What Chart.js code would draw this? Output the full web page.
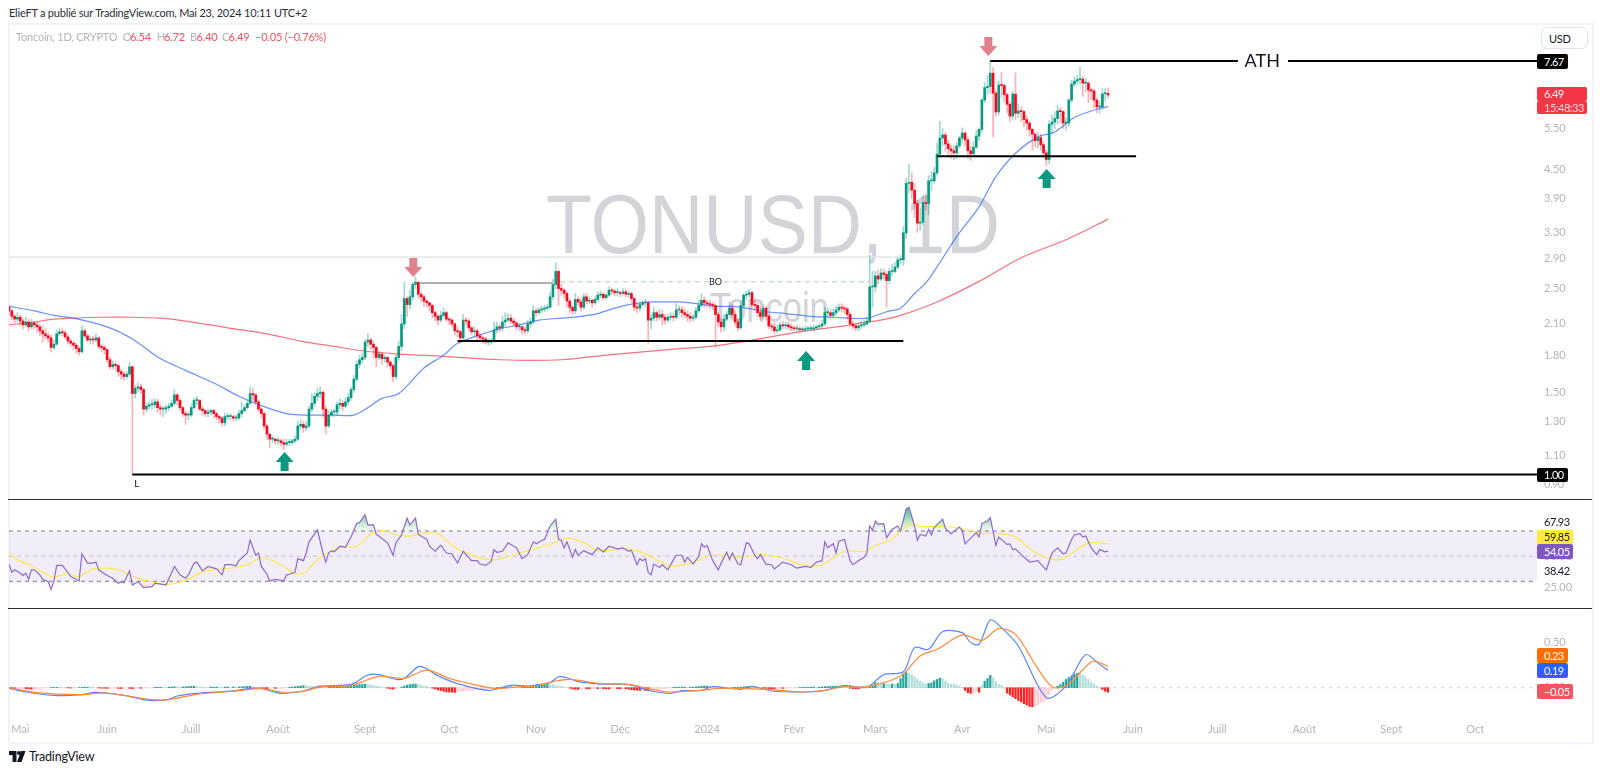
<!DOCTYPE html>
<html>
<head>
<meta charset="utf-8">
<title>TONUSD 1D</title>
<script src="https://cdn.jsdelivr.net/npm/chart.js@4"></script>
<style>
    html, body { margin: 0; padding: 0; background: #fff; width: 1600px; height: 772px; overflow: hidden; }
    body { font-family: Lato, sans-serif; position: relative; }
    canvas { position: absolute; left: 0; z-index: 2; }
    .txt { position: absolute; white-space: nowrap; line-height: 16px; height: 16px; z-index: 3; letter-spacing: -.2px; }
    .tag { position: absolute; left: 1537px; box-sizing: border-box; padding-left: 7px; font-size: 11px; letter-spacing: -.5px; border-radius: 2px; z-index: 4; white-space: nowrap; }
    .mark { position: absolute; color: #d3d4d8; font-family: "Liberation Sans", sans-serif; line-height: 1; white-space: nowrap; transform-origin: left top; z-index: 1; }
    .rule { position: absolute; left: 8px; width: 1584px; height: 1px; background: #2a2e39; z-index: 3; }
    #frame { position: absolute; left: 8px; top: 23px; width: 1582px; height: 717px; border: 2px solid #f0f3fa; z-index: 0; }
</style>
</head>
<body>
<div id="frame"></div>
<div class="mark" style="left:546px;top:182px;font-size:84px;transform:scaleX(.895)">TONUSD, 1D</div>
<div class="mark" style="left:710px;top:287px;font-size:42px;transform:scaleX(.82)">Toncoin</div>
<div class="rule" style="top:499px"></div>
<div class="rule" style="top:608px"></div>

<canvas id="priceChart" width="1600" height="475" style="top:24px"></canvas>
<canvas id="rsiChart" width="1600" height="108" style="top:500px"></canvas>
<canvas id="macdChart" width="1600" height="133" style="top:609px"></canvas>

<svg style="position:absolute;left:9px;top:751px;z-index:3" width="18" height="11" viewBox="0 0 36 22"><path d="M0 0h15v22H7V8H0z M24 0l-8 22h9l8-22z" fill="#131722"/><circle cx="20" cy="4" r="4" fill="#131722"/></svg>
<script>
// day 0 is 2023-04-27, one candle per day
const opens = [
    2.28,2.24,2.18,2.15,2.17,2.13,2.09,2.12,2.07,2.11,
    2.09,2.07,2.03,2.00,1.98,1.96,1.87,1.90,2.00,2.02,
    2.01,1.97,1.93,1.91,1.89,1.86,1.83,2.03,1.98,1.94,
    1.95,1.94,1.96,1.88,1.87,1.85,1.76,1.70,1.72,1.71,
    1.66,1.64,1.62,1.64,1.70,1.49,1.53,1.54,1.52,1.38,
    1.40,1.41,1.41,1.43,1.39,1.38,1.38,1.39,1.40,1.42,
    1.48,1.44,1.39,1.35,1.34,1.34,1.39,1.44,1.44,1.38,
    1.37,1.35,1.36,1.37,1.35,1.33,1.32,1.29,1.33,1.33,
    1.33,1.32,1.32,1.35,1.37,1.39,1.42,1.49,1.48,1.43,
    1.38,1.35,1.27,1.22,1.19,1.19,1.18,1.18,1.17,1.16,
    1.17,1.17,1.18,1.19,1.27,1.28,1.26,1.27,1.38,1.42,
    1.47,1.49,1.50,1.38,1.27,1.34,1.36,1.36,1.41,1.42,
    1.40,1.43,1.46,1.52,1.60,1.72,1.76,1.78,1.92,1.94,
    1.90,1.87,1.78,1.81,1.77,1.78,1.74,1.71,1.62,1.78,
    1.88,2.10,2.38,2.31,2.40,2.55,2.58,2.43,2.40,2.35,
    2.33,2.30,2.22,2.18,2.14,2.19,2.22,2.15,2.14,2.10,
    2.03,2.02,1.96,2.14,2.13,2.06,2.02,2.03,1.98,1.96,
    1.95,1.92,1.92,1.93,2.04,2.07,2.06,2.12,2.14,2.16,
    2.13,2.11,2.07,2.07,2.04,2.03,2.10,2.12,2.24,2.22,
    2.25,2.26,2.27,2.28,2.40,2.55,2.72,2.50,2.48,2.44,
    2.35,2.28,2.24,2.37,2.34,2.28,2.40,2.35,2.36,2.33,
    2.37,2.42,2.43,2.39,2.42,2.48,2.47,2.45,2.45,2.44,
    2.46,2.43,2.44,2.38,2.28,2.27,2.31,2.33,2.33,2.14,
    2.16,2.22,2.17,2.20,2.17,2.14,2.17,2.18,2.17,2.25,
    2.25,2.22,2.20,2.18,2.16,2.17,2.24,2.30,2.36,2.33,
    2.32,2.31,2.30,2.20,2.12,2.07,2.15,2.20,2.27,2.20,
    2.12,2.06,2.30,2.42,2.43,2.45,2.31,2.30,2.22,2.18,
    2.27,2.18,2.08,2.07,2.03,2.04,2.09,2.08,2.09,2.07,
    2.06,2.05,2.05,2.04,2.04,2.05,2.05,2.05,2.06,2.07,
    2.08,2.10,2.22,2.22,2.19,2.22,2.25,2.28,2.27,2.26,
    2.20,2.10,2.08,2.06,2.08,2.09,2.10,2.13,2.52,2.52,
    2.66,2.62,2.70,2.68,2.60,2.72,2.72,2.78,2.88,2.88,
    3.29,4.20,4.22,4.06,3.80,3.45,3.47,3.82,3.80,4.25,
    4.25,4.42,4.85,5.25,5.33,5.10,4.98,4.93,4.88,5.05,
    5.25,5.38,5.20,4.93,4.86,5.02,5.30,5.48,6.33,6.73,
    6.77,7.23,6.55,5.97,6.82,6.80,6.50,6.20,5.85,6.52,
    5.93,6.00,5.98,5.75,5.65,5.48,5.35,5.18,5.26,5.08,
    4.88,4.72,5.62,5.68,5.78,6.00,5.98,5.65,5.65,6.33,
    6.85,6.95,7.00,7.02,6.88,6.88,6.65,6.62,6.33,6.12,
    6.12,6.53,6.54
];
const closes = [
    2.24,2.18,2.15,2.17,2.13,2.09,2.12,2.07,2.11,2.09,
    2.07,2.03,2.00,1.98,1.96,1.87,1.90,2.00,2.02,2.01,
    1.97,1.93,1.91,1.89,1.86,1.83,2.03,1.98,1.94,1.95,
    1.94,1.96,1.88,1.87,1.85,1.76,1.70,1.72,1.71,1.66,
    1.64,1.62,1.64,1.70,1.49,1.53,1.54,1.52,1.38,1.40,
    1.41,1.41,1.43,1.39,1.38,1.38,1.39,1.40,1.42,1.48,
    1.44,1.39,1.35,1.34,1.34,1.39,1.44,1.44,1.38,1.37,
    1.35,1.36,1.37,1.35,1.33,1.32,1.29,1.33,1.33,1.33,
    1.32,1.32,1.35,1.37,1.39,1.42,1.49,1.48,1.43,1.38,
    1.35,1.27,1.22,1.19,1.19,1.18,1.18,1.17,1.16,1.17,
    1.17,1.18,1.19,1.27,1.28,1.26,1.27,1.38,1.42,1.47,
    1.49,1.50,1.38,1.27,1.34,1.36,1.36,1.41,1.42,1.40,
    1.43,1.46,1.52,1.60,1.72,1.76,1.78,1.92,1.94,1.90,
    1.87,1.78,1.81,1.77,1.78,1.74,1.71,1.62,1.78,1.88,
    2.10,2.38,2.31,2.40,2.55,2.58,2.43,2.40,2.35,2.33,
    2.30,2.22,2.18,2.14,2.19,2.22,2.15,2.14,2.10,2.03,
    2.02,1.96,2.14,2.13,2.06,2.02,2.03,1.98,1.96,1.95,
    1.92,1.92,1.93,2.04,2.07,2.06,2.12,2.14,2.16,2.13,
    2.11,2.07,2.07,2.04,2.03,2.10,2.12,2.24,2.22,2.25,
    2.26,2.27,2.28,2.40,2.55,2.72,2.50,2.48,2.44,2.35,
    2.28,2.24,2.37,2.34,2.28,2.40,2.35,2.36,2.33,2.37,
    2.42,2.43,2.39,2.42,2.48,2.47,2.45,2.45,2.44,2.46,
    2.43,2.44,2.38,2.28,2.27,2.31,2.33,2.33,2.14,2.16,
    2.22,2.17,2.20,2.17,2.14,2.17,2.18,2.17,2.25,2.25,
    2.22,2.20,2.18,2.16,2.17,2.24,2.30,2.36,2.33,2.32,
    2.31,2.30,2.20,2.12,2.07,2.15,2.20,2.27,2.20,2.12,
    2.06,2.30,2.42,2.43,2.45,2.31,2.30,2.22,2.18,2.27,
    2.18,2.08,2.07,2.03,2.04,2.09,2.08,2.09,2.07,2.06,
    2.05,2.05,2.04,2.04,2.05,2.05,2.05,2.06,2.07,2.08,
    2.10,2.22,2.22,2.19,2.22,2.25,2.28,2.27,2.26,2.20,
    2.10,2.08,2.06,2.08,2.09,2.10,2.13,2.52,2.52,2.66,
    2.62,2.70,2.68,2.60,2.72,2.72,2.78,2.88,2.88,3.29,
    4.20,4.22,4.06,3.80,3.45,3.47,3.82,3.80,4.25,4.25,
    4.42,4.85,5.25,5.33,5.10,4.98,4.93,4.88,5.05,5.25,
    5.38,5.20,4.93,4.86,5.02,5.30,5.48,6.33,6.73,6.77,
    7.23,6.55,5.97,6.82,6.80,6.50,6.20,5.85,6.52,5.93,
    6.00,5.98,5.75,5.65,5.48,5.35,5.18,5.26,5.08,4.88,
    4.72,5.62,5.68,5.78,6.00,5.98,5.65,5.65,6.33,6.85,
    6.95,7.00,7.02,6.88,6.88,6.65,6.62,6.33,6.12,6.12,
    6.53,6.54,6.49
];
const highs = [
    2.30,2.26,2.20,2.22,2.20,2.16,2.17,2.15,2.15,2.13,
    2.12,2.09,2.08,2.05,2.01,1.99,1.94,2.04,2.06,2.05,
    2.03,1.99,1.95,1.93,1.91,1.88,2.08,2.05,2.00,1.98,
    1.98,2.00,1.97,1.90,1.89,1.86,1.78,1.75,1.74,1.72,
    1.68,1.66,1.66,1.74,1.71,1.55,1.57,1.56,1.53,1.42,
    1.43,1.45,1.45,1.45,1.41,1.40,1.41,1.42,1.44,1.52,
    1.49,1.45,1.40,1.37,1.36,1.41,1.46,1.47,1.45,1.40,
    1.38,1.38,1.38,1.38,1.36,1.34,1.33,1.35,1.35,1.35,
    1.34,1.34,1.37,1.43,1.41,1.44,1.54,1.53,1.49,1.44,
    1.39,1.36,1.28,1.22,1.21,1.20,1.20,1.19,1.19,1.19,
    1.19,1.19,1.21,1.30,1.31,1.30,1.30,1.40,1.49,1.50,
    1.53,1.54,1.51,1.40,1.37,1.38,1.38,1.43,1.45,1.44,
    1.46,1.49,1.54,1.63,1.75,1.80,1.82,1.95,2.00,1.96,
    1.93,1.88,1.84,1.82,1.80,1.79,1.75,1.72,1.80,1.93,
    2.20,2.58,2.40,2.48,2.58,2.65,2.58,2.46,2.42,2.37,
    2.34,2.31,2.24,2.20,2.24,2.27,2.24,2.17,2.16,2.11,
    2.07,2.04,2.20,2.17,2.15,2.08,2.07,2.05,2.00,1.98,
    1.97,1.95,1.96,2.12,2.12,2.10,2.18,2.22,2.21,2.20,
    2.16,2.13,2.11,2.08,2.07,2.14,2.16,2.30,2.27,2.28,
    2.29,2.30,2.31,2.46,2.62,2.84,2.74,2.56,2.50,2.46,
    2.38,2.30,2.44,2.40,2.38,2.44,2.44,2.40,2.38,2.40,
    2.46,2.47,2.45,2.44,2.52,2.51,2.49,2.50,2.47,2.50,
    2.49,2.47,2.46,2.40,2.32,2.34,2.36,2.37,2.34,2.20,
    2.28,2.24,2.26,2.25,2.20,2.20,2.22,2.21,2.32,2.30,
    2.29,2.26,2.24,2.22,2.20,2.28,2.36,2.44,2.40,2.36,
    2.36,2.34,2.32,2.23,2.16,2.20,2.24,2.34,2.31,2.24,
    2.16,2.35,2.44,2.47,2.49,2.47,2.37,2.33,2.27,2.31,
    2.30,2.20,2.11,2.11,2.09,2.12,2.13,2.12,2.12,2.10,
    2.08,2.08,2.07,2.07,2.08,2.07,2.08,2.09,2.09,2.10,
    2.14,2.28,2.27,2.26,2.26,2.29,2.32,2.32,2.30,2.28,
    2.22,2.13,2.10,2.11,2.13,2.14,2.17,2.95,2.72,2.72,
    2.74,2.76,2.75,2.72,2.76,2.82,2.84,2.92,2.95,3.40,
    4.30,4.62,4.42,4.20,3.86,3.72,3.95,3.98,4.36,4.45,
    4.55,5.12,5.70,5.50,5.40,5.20,5.06,5.05,5.14,5.30,
    5.52,5.42,5.27,5.05,5.16,5.45,5.52,6.40,6.90,7.15,
    7.68,7.43,6.62,6.95,7.25,6.85,6.55,6.25,6.62,7.24,
    6.20,6.12,6.02,5.85,5.70,5.50,5.40,5.40,5.35,5.15,
    4.95,5.72,5.88,5.98,6.15,6.10,6.00,5.80,6.38,6.98,
    7.10,7.15,7.45,7.10,7.05,6.95,6.72,6.68,6.40,6.30,
    6.70,6.70,6.72
];
const lows = [
    2.20,2.14,2.11,2.12,2.08,2.05,2.07,2.03,2.05,2.05,
    2.02,1.98,1.92,1.95,1.92,1.83,1.85,1.89,1.98,1.98,
    1.95,1.90,1.88,1.85,1.82,1.80,1.82,1.96,1.92,1.90,
    1.90,1.92,1.86,1.83,1.81,1.74,1.68,1.68,1.67,1.62,
    1.60,1.59,1.60,1.62,1.00,1.46,1.50,1.49,1.34,1.36,
    1.38,1.38,1.39,1.36,1.34,1.33,1.35,1.37,1.39,1.40,
    1.41,1.37,1.33,1.28,1.31,1.33,1.38,1.41,1.37,1.34,
    1.33,1.33,1.34,1.32,1.31,1.29,1.27,1.27,1.31,1.31,
    1.30,1.30,1.31,1.33,1.36,1.38,1.42,1.44,1.41,1.36,
    1.32,1.25,1.19,1.14,1.17,1.16,1.16,1.15,1.13,1.15,
    1.15,1.16,1.17,1.18,1.25,1.23,1.24,1.26,1.36,1.40,
    1.44,1.46,1.33,1.22,1.26,1.33,1.33,1.34,1.38,1.37,
    1.39,1.41,1.44,1.50,1.58,1.69,1.73,1.76,1.88,1.85,
    1.78,1.70,1.76,1.72,1.74,1.70,1.68,1.58,1.60,1.76,
    1.84,2.05,2.18,2.26,2.36,2.50,2.38,2.35,2.29,2.28,
    2.24,2.16,2.13,2.09,2.12,2.17,2.12,2.09,2.07,1.99,
    1.97,1.91,1.93,2.09,2.03,1.99,1.98,1.94,1.92,1.91,
    1.90,1.89,1.90,1.92,2.01,2.02,2.03,2.08,2.12,2.10,
    2.08,2.04,2.03,2.00,2.00,2.01,2.06,2.10,2.18,2.20,
    2.22,2.23,2.25,2.27,2.37,2.50,2.30,2.42,2.38,2.28,
    2.22,2.20,2.21,2.30,2.24,2.26,2.32,2.32,2.28,2.31,
    2.35,2.38,2.36,2.37,2.40,2.43,2.41,2.41,2.40,2.42,
    2.40,2.40,2.34,2.24,2.22,2.24,2.29,2.29,1.91,2.05,
    2.13,2.13,2.14,2.09,2.10,2.12,2.14,2.13,2.15,2.20,
    2.17,2.16,2.13,2.12,2.13,2.15,2.22,2.28,2.28,2.28,
    2.27,2.25,1.87,2.07,2.02,2.03,2.13,2.19,2.17,2.08,
    2.03,2.05,2.28,2.37,2.40,2.28,2.25,2.18,2.14,2.15,
    2.14,2.05,2.03,2.00,2.01,2.02,2.05,2.05,2.04,2.03,
    2.03,2.03,2.02,2.02,2.02,2.03,2.03,2.03,2.04,2.05,
    2.06,2.08,2.17,2.15,2.16,2.19,2.23,2.23,2.21,2.15,
    2.07,2.05,2.03,2.03,2.05,2.07,2.09,2.11,2.28,2.46,
    2.56,2.60,2.62,2.28,2.56,2.66,2.70,2.76,2.82,2.80,
    3.20,4.00,3.90,3.55,3.30,3.33,3.43,3.68,3.60,4.05,
    4.20,4.35,4.82,5.05,4.92,4.82,4.75,4.72,4.75,5.00,
    5.12,5.05,4.75,4.70,4.82,4.98,5.18,5.40,6.25,6.50,
    6.55,5.28,5.85,5.88,6.42,6.28,5.95,5.70,5.75,5.75,
    5.80,5.70,5.55,5.45,5.30,4.95,5.02,5.00,4.95,4.75,
    4.58,4.62,5.35,5.50,5.62,5.65,5.50,5.45,5.55,6.25,
    6.75,6.82,6.85,6.45,6.60,6.25,6.35,6.10,5.95,5.92,
    6.05,6.32,6.40
];

const ma50Days = [0,9,16,23,35,44,54,63,74,82,92,99,106,116,123,128,133,139,148,155,160,168,175,182,189,197,204,210,216,223,230,238,243,248,252,258,263,270,277,286,294,306,313,318,323,327,331,338,346,352,359,367,373,380,388,392];
const ma50Values = [2.29,2.24,2.19,2.16,2.07,1.95,1.77,1.67,1.56,1.47,1.39,1.35,1.34,1.34,1.34,1.39,1.455,1.49,1.69,1.80,1.91,1.99,2.05,2.09,2.14,2.16,2.18,2.21,2.27,2.32,2.34,2.34,2.33,2.31,2.29,2.29,2.27,2.23,2.21,2.18,2.17,2.16,2.23,2.27,2.44,2.57,2.78,3.23,3.74,4.34,4.87,5.28,5.41,5.81,6.05,6.13];
const ma200Days = [0,9,16,23,32,44,54,63,78,92,104,116,126,139,155,175,197,213,235,250,263,282,298,304,311,318,331,346,361,377,392];
const ma200Values = [2.09,2.12,2.15,2.16,2.17,2.17,2.16,2.13,2.06,2.00,1.93,1.88,1.84,1.81,1.79,1.76,1.76,1.80,1.85,1.88,1.93,2.02,2.08,2.11,2.14,2.19,2.34,2.59,2.91,3.18,3.52];

const rsiDays = [
    0,1,2,4,5,6,7,8,9,10,11,12,14,15,16,17,19,21,22,25,
    26,28,30,31,32,35,37,39,40,41,43,44,46,48,51,52,53,56,59,61,
    63,64,66,67,69,71,74,76,77,79,81,82,85,86,88,89,90,92,93,95,
    98,99,100,102,103,105,106,107,110,112,113,114,115,116,118,120,122,124,125,127,
    128,130,131,132,135,137,138,140,142,143,145,146,149,150,152,154,156,158,160,162,
    165,167,168,170,172,173,174,176,178,179,181,183,185,187,188,190,191,193,195,196,
    197,198,199,201,202,203,205,208,210,212,214,217,219,221,222,224,225,226,227,228,
    229,230,232,233,235,237,238,240,241,242,244,246,247,248,249,251,253,254,256,257,
    258,260,261,263,264,266,267,268,270,272,273,276,279,281,284,286,288,290,291,292,
    294,295,296,298,300,301,303,305,306,307,308,309,310,312,313,315,317,318,320,321,
    323,324,325,327,328,329,330,333,334,336,339,340,341,345,346,347,349,350,351,352,
    353,356,357,358,359,361,364,367,368,370,372,374,376,377,379,380,382,383,384,386,
    388,389,391,392
];
const rsiValues = [
    43.7,37.2,39.1,36.4,34.6,36.4,31.6,39.1,39.1,37.2,35.1,31.6,29.7,23.6,29.7,42.6,42.6,37.2,33.8,30.3,
    51.7,44.5,44.5,45.3,39.1,34.6,32.4,28.4,29.7,28.9,38.3,27.0,29.7,24.9,25.7,28.4,28.1,27,41.8,35.1,
    32.4,35.1,44.5,45.3,38.3,41.8,39.9,35.1,43.2,43.2,42.3,46.4,52.5,62.8,50.7,52.5,41.8,35.6,30.3,31.6,
    30.3,35.1,35.6,37.2,48,46.4,52.5,61.4,70.8,52.5,45.3,52.5,54.4,53.4,57.9,57.1,65.2,75.9,76.7,82.9,
    74.8,74.8,67.3,65.9,60.6,50.7,60.6,66.8,80.2,74.8,80.2,67.3,63.3,57.9,53.9,58.7,52.5,51.7,44.5,53.9,
    46.4,46.4,43.7,42.6,45.8,55.2,53.1,53.9,60.6,59.3,56.6,48,51.2,61.4,59.8,62.5,63.3,74,79.4,63.3,
    62.5,56.6,61.4,49.1,55.2,50.7,54.4,51.2,56.6,53.4,57.9,55.8,56.6,53.9,54.7,43.2,48,46.4,48,37.2,
    35.1,43.7,41,43.2,39.1,47.2,50.7,50.7,45.3,49.1,43.7,49.9,59.8,57.1,58.5,46.4,39.1,44.5,53.1,47.2,
    52.5,43.7,43.2,60.6,59.8,50.7,48,51.2,43.7,43.2,39.9,45.3,43.2,40.5,41.8,41,45.3,46.4,61.4,56.6,
    59.8,52.5,61.9,63.3,46.4,43.2,46.4,49.1,52.5,74,70.5,78,75.4,75.9,64.6,71.3,74,70,87.5,88.8,
    74,62.5,67.3,66,71.3,66.8,72.7,79.4,72.1,67.9,73.2,70.5,59.8,68.7,65.2,75.9,78,80.7,69.5,58.5,
    65.2,59.3,59.8,55.2,55.8,51.2,45.3,46.4,43.7,39.1,52.5,56.6,51.7,52.5,63.3,66.8,67.9,65.2,66,56.6,
    51.2,55.2,53.5,54.05
];
const rsiMaDays = [0,3,8,12,16,20,25,30,39,43,48,57,63,70,77,81,85,90,96,101,103,106,110,115,119,124,129,134,138,143,147,153,157,162,172,177,183,189,193,199,205,210,221,226,236,243,251,261,268,275,284,290,298,305,310,315,318,322,325,332,338,347,353,359,365,371,376,385,392];
const rsiMaValues = [52.5,47.1,42.6,37.2,33.2,35.6,33.8,39.9,39.4,35.1,31,27.6,31,38.3,39.9,41,43.2,48.5,44.5,37.2,35.6,37.7,47.2,53.9,57.4,57.9,67.3,70.5,66.8,66,67.9,67.9,60.6,53.4,46.9,49.1,53.1,56.8,59.5,64.3,60.8,54.7,55.5,52.8,42.3,44.5,50.7,49.1,51.2,49.1,42.6,43.2,53.9,53.9,59.3,63.3,70,75.9,73.6,73.6,72.8,68.2,67.9,65.4,54.4,48,48,60.6,59.85];

const macdDays = [0,6,16,25,31,41,50,57,60,67,80,86,90,97,105,111,122,128,132,138,141,146,149,152,160,171,179,185,189,193,196,199,203,211,221,229,236,240,247,251,261,265,272,282,290,298,306,312,319,323,328,333,340,343,346,350,354,360,370,377,384,389,392];
const macdValues = [-.004,-.047,-.084,-.080,-.051,-.084,-.139,-.128,-.091,-.062,-.036,-.007,-.007,-.062,-.036,.018,.036,.139,.142,.091,.102,.230,.208,.146,.044,-.029,.026,.018,.036,.055,.120,.109,.066,.040,.033,-.036,-.062,-.033,-.029,.011,-.018,.015,-.036,-.047,-.036,.022,.007,.142,.175,.438,.420,.613,.602,.493,.475,.741,.657,.456,-.109,.018,.361,.255,.19];
const signalDays = [0,10,25,34,41,51,57,67,81,90,97,105,111,122,132,141,149,157,162,173,184,189,195,200,211,221,229,235,247,253,262,272,282,290,298,306,318,325,331,340,347,353,359,366,372,377,386,389,392];
const signalValues = [0,-.055,-.077,-.058,-.084,-.131,-.131,-.073,-.036,-.011,-.047,-.040,.007,.026,.124,.102,.193,.102,.062,-.007,.015,.026,.073,.091,.044,.036,-.018,-.047,-.029,-.007,-.011,-.022,-.047,-.033,.011,.011,.128,.347,.420,.577,.518,.646,.584,.255,.011,.018,.281,.274,.23];
const histValues = [
    -.012,-.014,-.016,-.015,-.012,-.010,-.012,-.014,-.016,-.015,
    -.012,-.008,-.006,-.004,-.002,.002,.003,.004,.003,.002,
    .001,-.002,-.004,-.003,-.001,.002,.004,.006,.006,.005,
    .003,-.002,-.004,-.006,-.006,-.008,-.007,-.005,-.004,-.008,
    -.009,-.008,-.006,-.008,-.012,-.010,-.006,-.006,-.005,-.004,
    -.003,-.002,.002,.004,.005,.004,.003,.006,.008,.010,
    .008,.007,.008,.010,.012,.014,.016,.012,.008,.007,
    .006,.005,.006,.006,.007,.006,.005,.006,.007,.006,
    .007,.006,.008,.010,.012,.014,.016,.012,.005,-.002,
    -.006,-.010,-.012,-.010,-.006,-.008,-.007,-.004,-.002,.001,
    .003,.006,.010,.014,.018,.022,.020,.016,.012,.008,
    .006,.006,.004,.003,.004,.006,.007,.008,.010,.012,
    .014,.018,.022,.026,.030,.034,.036,.038,.036,.030,
    .024,.018,.012,.006,.000,-.006,-.012,-.016,-.012,-.004,
    .006,.018,.028,.034,.038,.040,.036,.026,.018,.012,
    .004,-.006,-.014,-.024,-.032,-.040,-.046,-.048,-.050,-.052,
    -.046,-.038,-.036,-.032,-.030,-.028,-.026,-.022,-.018,-.014,
    -.010,-.007,-.004,-.002,.002,.003,.005,.006,.008,.010,
    .009,.007,.006,.006,.007,.010,.014,.020,.024,.026,
    .030,.036,.040,.034,.030,.024,.018,.014,.008,.002,
    -.006,-.014,-.018,-.020,-.016,-.012,-.012,-.014,-.012,-.010,
    -.012,-.010,-.012,-.012,-.014,-.012,-.010,-.012,-.012,-.010,
    -.012,-.016,-.022,-.026,-.028,-.030,-.028,-.030,-.032,-.028,
    -.022,-.020,-.016,-.014,-.010,-.006,.002,.004,.005,.006,
    .006,.007,.005,.006,.006,.008,.012,.016,.018,.018,
    .014,.008,.004,.002,-.004,-.006,-.004,-.002,.002,.004,
    .004,.006,.010,.012,.012,.010,.006,.004,-.002,-.004,
    -.008,-.010,-.012,-.012,-.010,-.008,-.008,-.006,-.004,-.003,
    -.002,.001,.002,.003,.004,.005,.006,.007,.006,.006,
    .008,.012,.012,.014,.016,.016,.014,.012,.008,.002,
    -.006,-.010,-.012,-.014,-.012,-.010,-.004,.010,.028,.055,
    .048,.042,.044,.040,.036,.040,.038,.046,.100,.150,
    .165,.160,.140,.118,.090,.070,.050,.040,.046,.052,
    .075,.090,.105,.100,.075,.050,.040,.036,.030,.020,
    .004,-.030,-.055,-.062,-.060,-.045,-.050,.030,.070,.100,
    .135,.110,.070,.040,.025,-.010,-.060,-.080,-.100,-.120,
    -.140,-.155,-.175,-.190,-.205,-.210,-.200,-.185,-.165,-.150,
    -.130,-.080,-.030,-.005,.015,.035,.060,.090,.110,.130,
    .150,.155,.150,.140,.120,.090,.060,.040,.020,.005,
    -.020,-.040,-.05
];

const monthDays = [4,35,65,96,127,157,188,218,249,280,309,340,370,401,431,462,493,523];
const monthLabels = ["Mai","Juin","Juill","Août","Sept","Oct","Nov","Déc","2024","Févr","Mars","Avr","Mai","Juin","Juill","Août","Sept","Oct"];
const priceTicks = [5.5,4.5,3.9,3.3,2.9,2.5,2.1,1.8,1.5,1.3,1.1];
const rsiTicks = [25,50];
const macdTicks = [0.5,0];

// drawings on the price pane
const arrowDays = [98.3,144.2,284.3,349.3,370.1];
const arrowTips = [1.117,2.646,1.838,7.87,4.505];
const arrowDirs = ["up","down","up","down","up"];
const noteTexts = ["ATH","BO","L"];
const noteDays = [447,252,45.6];
const notePrices = [7.67,2.585,0.954];
const noteSizes = [18,9,10];

const LAST_DAY = 545;
const FONT = 'Lato, sans-serif';
const UP = "#089981";
const DOWN = "#f7071d";
const GREY = "#b2b5be";

const toPoints = (days, values) => days.map((d, i) => ({ x: d, y: values[i] }));

function lineSet(data, color, width, yOrder, extra) {
    return Object.assign({
        type: "line", data: data, borderColor: color, borderWidth: width,
        pointRadius: 0, fill: false, tension: 0, order: yOrder, spanGaps: false
    }, extra || {});
}

function hLine(from, to, y, color, width, yOrder, dash) {
    return lineSet([{ x: from, y: y }, { x: to, y: y }], color, width, yOrder, { borderDash: dash || [] });
}

function xAxis(showLabels) {
    return {
        type: "linear", min: 0, max: LAST_DAY, display: showLabels, offset: false,
        grid: { display: false }, border: { display: false },
        afterBuildTicks: (scale) => { scale.ticks = monthDays.map((d) => ({ value: d })); },
        afterFit: (scale) => { scale.height = showLabels ? 28 : 0; scale.paddingLeft = 0; scale.paddingRight = 0; },
        ticks: {
            autoSkip: false, maxRotation: 0, padding: 1, color: GREY, font: { family: FONT, size: 11 },
            callback: (v) => monthLabels[monthDays.indexOf(v)]
        }
    };
}

function yAxis(type, min, max, tickList) {
    return {
        type: type, min: min, max: max, position: "right", bounds: "data",
        grid: { display: false, drawTicks: false }, border: { display: false },
        afterBuildTicks: (scale) => { scale.ticks = tickList.map((v) => ({ value: v })); },
        afterFit: (scale) => { scale.width = 63; scale.paddingTop = 0; scale.paddingBottom = 0; },
        ticks: {
            autoSkip: false, padding: 7, color: GREY, font: { family: FONT, size: 11 },
            callback: (v) => Number(v).toFixed(2)
        }
    };
}

function baseOptions(scales) {
    return {
        responsive: false, animation: false, events: [],
        layout: { padding: { left: 9, right: 0, top: 0, bottom: 0 } },
        plugins: { legend: { display: false }, tooltip: { enabled: false } },
        scales: scales
    };
}

// arrows and small notes sit on price/day coordinates
const priceDrawings = {
    id: "priceDrawings",
    afterDatasetsDraw(chart) {
        const { ctx, scales } = chart;
        arrowDays.forEach((day, i) => {
            const x = scales.x.getPixelForValue(day);
            const y = scales.y.getPixelForValue(arrowTips[i]);
            const s = arrowDirs[i] === "up" ? 1 : -1;
            ctx.fillStyle = arrowDirs[i] === "up" ? UP : "#e2808b";
            ctx.beginPath();
            ctx.moveTo(x, y);
            ctx.lineTo(x + 9, y + s * 10);
            ctx.lineTo(x + 4, y + s * 10);
            ctx.lineTo(x + 4, y + s * 19);
            ctx.lineTo(x - 4, y + s * 19);
            ctx.lineTo(x - 4, y + s * 10);
            ctx.lineTo(x - 9, y + s * 10);
            ctx.closePath();
            ctx.fill();
        });
        noteTexts.forEach((text, i) => {
            ctx.fillStyle = "#131722";
            ctx.font = noteSizes[i] + "px " + FONT;
            ctx.textAlign = "center";
            ctx.textBaseline = "middle";
            ctx.fillText(text, scales.x.getPixelForValue(noteDays[i]), scales.y.getPixelForValue(notePrices[i]));
        });
    }
};

const dayList = closes.map((c, i) => i);
new Chart(document.getElementById("priceChart").getContext("2d"), {
    data: {
        datasets: [
            hLine(0, 317, 2.92, "#e3e4e8", 1.5, 9),
            lineSet(toPoints(ma200Days, ma200Values), "rgba(242,54,69,.7)", 1.2, 8, { tension: 0.3 }),
            lineSet(toPoints(ma50Days, ma50Values), "rgba(41,98,255,.7)", 1.2, 7, { tension: 0.3 }),
            {
                type: "bar", order: 6, barThickness: 1, grouped: false,
                data: dayList.map((i) => ({ x: i, y: [lows[i], highs[i]] })),
                backgroundColor: dayList.map((i) => closes[i] >= opens[i] ? "rgba(8,153,129,.38)" : "rgba(247,7,29,.32)")
            },
            {
                type: "bar", order: 5, barThickness: 2, grouped: false, minBarLength: 1,
                data: dayList.map((i) => ({ x: i, y: [opens[i], closes[i]] })),
                backgroundColor: dayList.map((i) => closes[i] >= opens[i] ? UP : DOWN)
            },
            lineSet([{ x: 350, y: 7.67 }, { x: 438.3, y: 7.67 }, { x: 447, y: null }, { x: 456.2, y: 7.67 }, { x: LAST_DAY, y: 7.67 }], "#000", 2, 1),
            hLine(331, 402, 4.8, "#000", 2, 1),
            hLine(146.5, 194, 2.57, "#b0b0b0", 2, 2),
            lineSet([{ x: 196.5, y: 2.585 }, { x: 249.5, y: 2.585 }, { x: 252, y: null }, { x: 255, y: 2.585 }, { x: 307, y: 2.585 }], "#a5d6a7", 1, 2, { borderDash: [5, 4] }),
            hLine(160, 319, 1.93, "#000", 2, 1),
            hLine(44, LAST_DAY, 1, "#000", 2, 1)
        ]
    },
    options: baseOptions({ x: xAxis(false), y: yAxis("logarithmic", 0.886, 9.21, priceTicks) }),
    plugins: [priceDrawings]
});

const rsiCtx = document.getElementById("rsiChart").getContext("2d");
const overbought = rsiCtx.createLinearGradient(0, 4, 0, 31);
overbought.addColorStop(0, "rgba(8,153,129,.85)");
overbought.addColorStop(1, "rgba(76,175,80,.05)");
const oversold = rsiCtx.createLinearGradient(0, 81, 0, 104);
oversold.addColorStop(0, "rgba(242,54,69,.05)");
oversold.addColorStop(1, "rgba(242,54,69,.55)");
new Chart(rsiCtx, {
    data: {
        datasets: [
            hLine(0, LAST_DAY, 70, "rgba(0,0,0,0)", 0, 9, []),
            hLine(0, LAST_DAY, 70, "#787b86", 1, 5, [4, 4]),
            hLine(0, LAST_DAY, 50, "rgba(120,123,134,.35)", 1, 5, [4, 4]),
            hLine(0, LAST_DAY, 30, "#787b86", 1, 5, [4, 4]),
            lineSet(toPoints(rsiDays, rsiValues), "rgba(0,0,0,0)", 0, 4, { fill: { target: { value: 70 }, above: overbought, below: "rgba(0,0,0,0)" } }),
            lineSet(toPoints(rsiDays, rsiValues), "rgba(0,0,0,0)", 0, 4, { fill: { target: { value: 30 }, above: "rgba(0,0,0,0)", below: oversold } }),
            lineSet(toPoints(rsiMaDays, rsiMaValues), "#ffe74c", 1.2, 3, { tension: 0.3 }),
            lineSet(toPoints(rsiDays, rsiValues), "#8a6bcb", 1.2, 2)
        ].map((set, i) => i === 0 ? Object.assign(set, { fill: { target: { value: 30 } }, backgroundColor: "rgba(126,87,194,.1)" }) : set)
    },
    options: baseOptions({ x: xAxis(false), y: yAxis("linear", 8.77, 94.65, rsiTicks) })
});

new Chart(document.getElementById("macdChart").getContext("2d"), {
    data: {
        datasets: [
            hLine(0, LAST_DAY, 0, "#d1d4dc", 1, 9, [4, 4]),
            {
                type: "bar", order: 8, barThickness: 1.6, grouped: false,
                data: toPoints(dayList, histValues),
                backgroundColor: histValues.map((v, i) => {
                    const growing = Math.abs(v) >= Math.abs(histValues[i - 1] || 0);
                    if (v >= 0) return growing ? "#26a69a" : "#b2dfdb";
                    return growing ? "#ff1f1f" : "#ffcdd2";
                })
            },
            lineSet(toPoints(macdDays, macdValues), "#5c86f5", 1.2, 3, { tension: 0.3 }),
            lineSet(toPoints(signalDays, signalValues), "#ff8a3c", 1.2, 2, { tension: 0.3 })
        ]
    },
    options: baseOptions({ x: xAxis(true), y: yAxis("linear", -0.288, 0.861, macdTicks) })
});

// page text and the price tags on the right
function putText(text, color, left, centerY, size) {
    const el = document.createElement("div");
    el.className = "txt";
    el.textContent = text;
    el.style.color = color;
    el.style.left = left + "px";
    el.style.top = (centerY - 8) + "px";
    el.style.fontSize = size + "px";
    document.body.appendChild(el);
}

function putTag(text, top, width, height, bg, fg) {
    const el = document.createElement("div");
    el.className = "tag";
    el.textContent = text;
    el.style.top = top + "px";
    el.style.width = width + "px";
    el.style.height = height + "px";
    el.style.lineHeight = height + "px";
    el.style.background = bg;
    el.style.color = fg;
    document.body.appendChild(el);
}

const legendRed = "#f7525f";
putText("ElieFT a publié sur TradingView.com, Mai 23, 2024 10:11 UTC+2", "#2a2e39", 9, 13, 11);
putText("Toncoin, 1D, CRYPTO", GREY, 16, 36.5, 11);
putText("O", GREY, 122.7, 36.5, 11);
putText("6.54", legendRed, 130, 36.5, 11);
putText("H", GREY, 156.7, 36.5, 11);
putText("6.72", legendRed, 164, 36.5, 11);
putText("B", GREY, 190, 36.5, 11);
putText("6.40", legendRed, 196.5, 36.5, 11);
putText("C", GREY, 222, 36.5, 11);
putText("6.49", legendRed, 228.5, 36.5, 11);
putText("−0.05 (−0.76%)", legendRed, 255, 36.5, 11);
putText("TradingView", "#131722", 29, 757, 12.5);

putTag("0.90", 477, 31, 14, "transparent", GREY);
putTag("7.67", 54, 31, 15, "#000", "#fff");
putTag("1.00", 468, 31, 14, "#000", "#fff");
putTag("6.49", 87, 50, 14, "#f23645", "#fff");
putTag("15:48:33", 101, 50, 13, "#f23645", "#ffd5d8");
putTag("67.93", 515, 36, 14, "transparent", "#131722");
putTag("59.85", 530, 36, 14.5, "#ffeb3b", "#131722");
putTag("54.05", 544, 36, 15, "#7e57c2", "#fff");
putTag("38.42", 564, 36, 14, "transparent", "#131722");
putTag("0.23", 648, 31, 15, "#ff6d00", "#fff");
putTag("0.19", 663, 31, 15, "#2962ff", "#fff");
putTag("−0.05", 684, 36, 15, "#f7525f", "#fff");

const usd = document.createElement("div");
usd.textContent = "USD";
usd.style.cssText = "position:absolute;left:1541px;top:27px;width:47px;height:22px;line-height:22px;box-sizing:border-box;border:1px solid #e0e3eb;border-radius:6px;padding-left:7px;font-size:11px;letter-spacing:-.3px;color:#131722;background:#fff;z-index:4";
document.body.appendChild(usd);
</script>
</body>
</html>
